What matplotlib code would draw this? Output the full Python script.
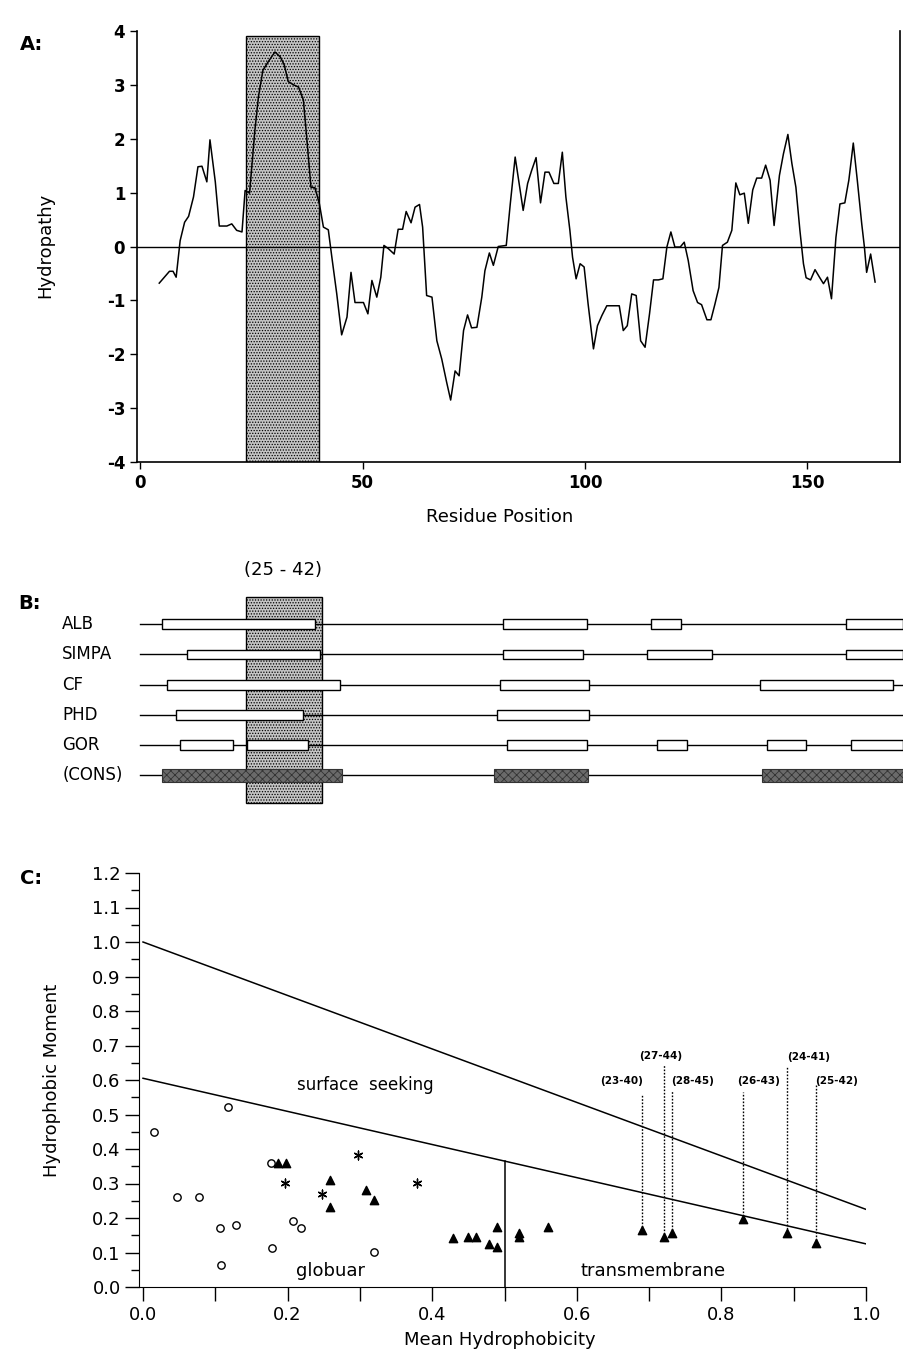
import numpy as np
import matplotlib
matplotlib.use("Agg")
import matplotlib.pyplot as plt
from matplotlib.patches import Rectangle
from matplotlib.ticker import MultipleLocator, FormatStrFormatter

plt.rcParams["font.family"] = ["DejaVu Sans"]
plt.rcParams["hatch.linewidth"] = 0.6
plt.rcParams["axes.unicode_minus"] = False

# --- panel A: hydropathy profile ---
residue = [4.3, 6.6, 7.4, 8.1, 9.0, 10.0, 10.9, 12.0, 13.0, 13.9, 15.0, 15.7, 16.9, 17.8,
           19.5, 20.6, 21.7, 22.9, 23.6, 24.6, 25.8, 26.6, 27.6, 28.8, 30.3, 31.5, 32.4,
           33.3, 34.5, 35.6, 36.7, 37.5, 38.4, 39.3, 40.3, 41.2, 42.3, 43.1, 44.2, 45.3,
           46.5, 47.4, 48.3, 50.2, 51.2, 52.1, 53.2, 54.1, 54.8, 55.8, 57.1, 58.0, 59.0,
           59.8, 60.9, 61.8, 62.8, 63.5, 64.4, 65.6, 66.7, 67.8, 68.9, 69.8, 70.8, 71.7,
           72.7, 73.6, 74.5, 75.7, 76.8, 77.5, 78.5, 79.4, 80.5, 82.3, 83.2, 84.3, 85.2,
           86.1, 87.1, 88.0, 89.0, 90.0, 91.0, 91.9, 93.0, 94.0, 94.9, 95.7, 96.6, 97.2,
           98.0, 98.9, 99.8, 100.7, 101.9, 102.8, 103.8, 104.9, 106.4, 107.7, 108.6,
           109.5, 110.5, 111.5, 112.5, 113.5, 114.5, 115.4, 116.5, 117.5, 118.4, 119.3,
           120.2, 121.4, 122.3, 123.2, 124.3, 125.3, 126.2, 127.4, 128.3, 129.2, 130.1,
           130.9, 132.0, 133.0, 133.9, 134.8, 135.8, 136.7, 137.7, 138.6, 139.7, 140.6,
           141.6, 142.5, 143.7, 144.6, 145.6, 146.5, 147.4, 148.3, 149.1, 149.7, 150.7,
           151.7, 152.7, 153.6, 154.5, 155.4, 156.4, 157.3, 158.4, 159.3, 160.3, 161.2,
           162.2, 162.8, 163.3, 164.2, 165.2]
hydropathy = [-0.68, -0.46, -0.46, -0.57, 0.11, 0.45, 0.56, 0.92, 1.48, 1.49, 1.20, 1.98,
              1.20, 0.38, 0.38, 0.42, 0.30, 0.27, 1.04, 0.99, 2.16, 2.78, 3.27, 3.43, 3.61,
              3.52, 3.37, 3.06, 3.00, 2.96, 2.72, 1.97, 1.10, 1.09, 0.79, 0.36, 0.31, -0.20,
              -0.88, -1.64, -1.31, -0.48, -1.04, -1.04, -1.25, -0.63, -0.94, -0.57, 0.02,
              -0.04, -0.14, 0.32, 0.32, 0.65, 0.44, 0.73, 0.78, 0.36, -0.91, -0.94, -1.75,
              -2.09, -2.52, -2.85, -2.31, -2.40, -1.56, -1.27, -1.51, -1.50, -0.94, -0.45,
              -0.12, -0.35, 0.00, 0.02, 0.79, 1.66, 1.17, 0.67, 1.17, 1.41, 1.65, 0.81, 1.38,
              1.38, 1.17, 1.17, 1.75, 0.92, 0.30, -0.20, -0.60, -0.32, -0.38, -1.07, -1.90,
              -1.47, -1.28, -1.10, -1.10, -1.10, -1.56, -1.47, -0.88, -0.91, -1.75, -1.87,
              -1.25, -0.62, -0.62, -0.60, -0.01, 0.27, -0.01, -0.01, 0.08, -0.26, -0.82,
              -1.04, -1.08, -1.36, -1.36, -1.07, -0.76, 0.02, 0.08, 0.30, 1.18, 0.96, 0.99,
              0.43, 1.05, 1.27, 1.27, 1.51, 1.23, 0.39, 1.32, 1.72, 2.08, 1.54, 1.10, 0.30,
              -0.32, -0.58, -0.62, -0.43, -0.57, -0.69, -0.57, -0.97, 0.17, 0.79, 0.81, 1.23,
              1.92, 1.23, 0.42, -0.01, -0.48, -0.14, -0.66]
tm_region = [23.7, 40.2]

# --- panel B: secondary structure predictions (helix segments) ---
methods = ["ALB", "SIMPA", "CF", "PHD", "GOR", "(CONS)"]
segments = [
    [(4.9, 39.3), (81.6, 100.4), (114.8, 121.6), (158.7, 171.5)],
    [(10.6, 40.4), (81.6, 99.6), (113.9, 128.5), (158.7, 171.5)],
    [(6.1, 44.9), (80.9, 100.9), (139.3, 169.2)],
    [(8.1, 36.6), (80.2, 100.9)],
    [(9.0, 20.9), (24.0, 37.8), (82.5, 100.4), (116.2, 122.9), (140.9, 149.7), (159.8, 171.5)],
    [(4.9, 45.4), (79.6, 100.7), (139.8, 171.7)],
]
seq_len = 171.7

# --- panel C: hydrophobic moment plot ---
globular_x = [0.015, 0.117, 0.177, 0.047, 0.077, 0.107, 0.128, 0.208, 0.219, 0.178, 0.320, 0.108]
globular_y = [0.448, 0.521, 0.360, 0.260, 0.260, 0.171, 0.180, 0.191, 0.171, 0.112, 0.101, 0.064]
surface_x = [0.298, 0.197, 0.248, 0.379]
surface_y = [0.382, 0.301, 0.271, 0.301]
tm_x = [0.187, 0.198, 0.259, 0.259, 0.309, 0.320, 0.429, 0.449, 0.460, 0.489, 0.479, 0.490,
        0.520, 0.520, 0.560]
tm_y = [0.360, 0.360, 0.310, 0.231, 0.281, 0.252, 0.143, 0.144, 0.144, 0.173, 0.124, 0.117,
        0.156, 0.144, 0.175]
window_labels = ["(23-40)", "(27-44)", "(28-45)", "(26-43)", "(24-41)", "(25-42)"]
window_x = [0.690, 0.720, 0.731, 0.830, 0.891, 0.931]
window_y = [0.165, 0.145, 0.156, 0.197, 0.157, 0.127]
window_top = [0.557, 0.643, 0.571, 0.566, 0.639, 0.586]
label_x = [0.662, 0.716, 0.760, 0.852, 0.920, 0.959]
label_y = [0.598, 0.670, 0.598, 0.598, 0.668, 0.598]
upper_line = ([0.0, 1.0], [1.0, 0.225])
lower_line = ([0.0, 1.0], [0.605, 0.125])

W, H = 904, 1357
fig = plt.figure(figsize=(W / 100, H / 100), dpi=100)

def box(l, t, r, b):
    return [l / W, 1 - b / H, (r - l) / W, (b - t) / H]

stipple = dict(facecolor="#c4c4c4", edgecolor="black", hatch="......", linewidth=1.0)

# ---------------- A ----------------
ax_a = fig.add_axes(box(137, 31, 900, 462))
ax_a.set_xlim(-0.7, 170.8)
ax_a.set_ylim(-4, 4)
ax_a.add_patch(Rectangle((tm_region[0], -4), tm_region[1] - tm_region[0], 7.9,
                         zorder=1, **stipple))
ax_a.axhline(0, color="black", lw=1.0, zorder=2)
ax_a.plot(residue, hydropathy, color="black", lw=1.1, zorder=3)
ax_a.spines["top"].set_visible(False)
for s in ax_a.spines.values():
    s.set_linewidth(1.2)
ax_a.set_xticks([0, 50, 100, 150])
ax_a.set_yticks(range(-4, 5))
ax_a.tick_params(labelsize=12, length=5, width=1.0)
for t in ax_a.get_xticklabels() + ax_a.get_yticklabels():
    t.set_fontweight("bold")
fig.text(45 / W, 1 - 245 / H, "Hydropathy", rotation=90, ha="center", va="center", fontsize=13)
fig.text(500 / W, 1 - 517 / H, "Residue Position", ha="center", va="center", fontsize=13)
fig.text(20 / W, 1 - 45 / H, "A:", ha="left", va="center", fontsize=14, fontweight="bold")

# ---------------- B ----------------
ax_b = fig.add_axes(box(137, 590, 900, 810))
ax_b.set_xlim(-0.7, 170.8)
ax_b.set_ylim(6.16, -1.14)
ax_b.axis("off")
ax_b.add_patch(Rectangle((tm_region[0], -0.9), tm_region[1] - tm_region[0] + 0.7, 6.83,
                         zorder=1, **stipple))
for i, (name, segs) in enumerate(zip(methods, segments)):
    ax_b.plot([0, seq_len], [i, i], color="black", lw=1.0, zorder=2, clip_on=False)
    consensus = name == "(CONS)"
    hgt = 0.43 if consensus else 0.33
    for a, b in segs:
        if consensus:
            p = Rectangle((a, i - hgt / 2), b - a, hgt, facecolor="#6a6a6a", edgecolor="#333333",
                          hatch="xxxx", lw=0.8, zorder=3, clip_on=False)
        else:
            p = Rectangle((a, i - hgt / 2), b - a, hgt, facecolor="white", edgecolor="black",
                          lw=1.0, zorder=3, clip_on=False)
        ax_b.add_patch(p)
    ax_b.text(-17.5, i, name, ha="left", va="center", fontsize=12, clip_on=False)
ax_b.text(32.1, -1.8, "(25 - 42)", ha="center", va="center", fontsize=13, clip_on=False)
ax_b.text(-27.5, -0.7, "B:", ha="left", va="center", fontsize=14, fontweight="bold",
          clip_on=False)

# ---------------- C ----------------
ax_c = fig.add_axes(box(139.4, 873, 866, 1287))
ax_c.set_xlim(-0.005, 1.0)
ax_c.set_ylim(0, 1.2)
ax_c.plot(*upper_line, color="black", lw=1.1)
ax_c.plot(*lower_line, color="black", lw=1.1)
ax_c.plot([0.5, 0.5], [0, np.interp(0.5, *lower_line)], color="black", lw=1.1)
ax_c.scatter(globular_x, globular_y, s=28, marker="o", facecolors="white",
             edgecolors="black", linewidths=1.0, zorder=4)
ax_c.scatter(surface_x, surface_y, s=40, marker=(6, 2, 0), color="black",
             linewidths=1.0, zorder=4)
ax_c.scatter(tm_x, tm_y, s=36, marker="^", color="black", zorder=4)
ax_c.scatter(window_x, window_y, s=36, marker="^", color="black", zorder=4)
for x, y0, y1, lx, ly, lab in zip(window_x, window_y, window_top, label_x, label_y,
                                  window_labels):
    ax_c.plot([x, x], [y0 + 0.01, y1], color="black", lw=1.0, ls=(0, (1.2, 1.2)))
    ax_c.text(lx, ly, lab, ha="center", va="center", fontsize=7.5, fontweight="bold")
ax_c.text(0.213, 0.585, "surface  seeking", ha="left", va="center", fontsize=12)
ax_c.text(0.26, 0.045, "globuar", ha="center", va="center", fontsize=13)
ax_c.text(0.705, 0.045, "transmembrane", ha="center", va="center", fontsize=13)
ax_c.spines["top"].set_visible(False)
ax_c.spines["right"].set_visible(False)
ax_c.xaxis.set_major_locator(MultipleLocator(0.2))
ax_c.xaxis.set_minor_locator(MultipleLocator(0.1))
ax_c.yaxis.set_major_locator(MultipleLocator(0.1))
ax_c.yaxis.set_minor_locator(MultipleLocator(0.05))
ax_c.xaxis.set_major_formatter(FormatStrFormatter("%.1f"))
ax_c.yaxis.set_major_formatter(FormatStrFormatter("%.1f"))
ax_c.tick_params(which="major", labelsize=13, length=10, width=1.0)
ax_c.tick_params(which="minor", length=6, width=1.0)
ax_c.tick_params(axis="x", which="minor", length=10)
fig.text(52 / W, 1 - 1080 / H, "Hydrophobic Moment", rotation=90, ha="center", va="center",
         fontsize=13)
fig.text(500 / W, 1 - 1340 / H, "Mean Hydrophobicity", ha="center", va="center", fontsize=13)
fig.text(20 / W, 1 - 878 / H, "C:", ha="left", va="center", fontsize=14, fontweight="bold")

fig.savefig("out.png", dpi=100)
